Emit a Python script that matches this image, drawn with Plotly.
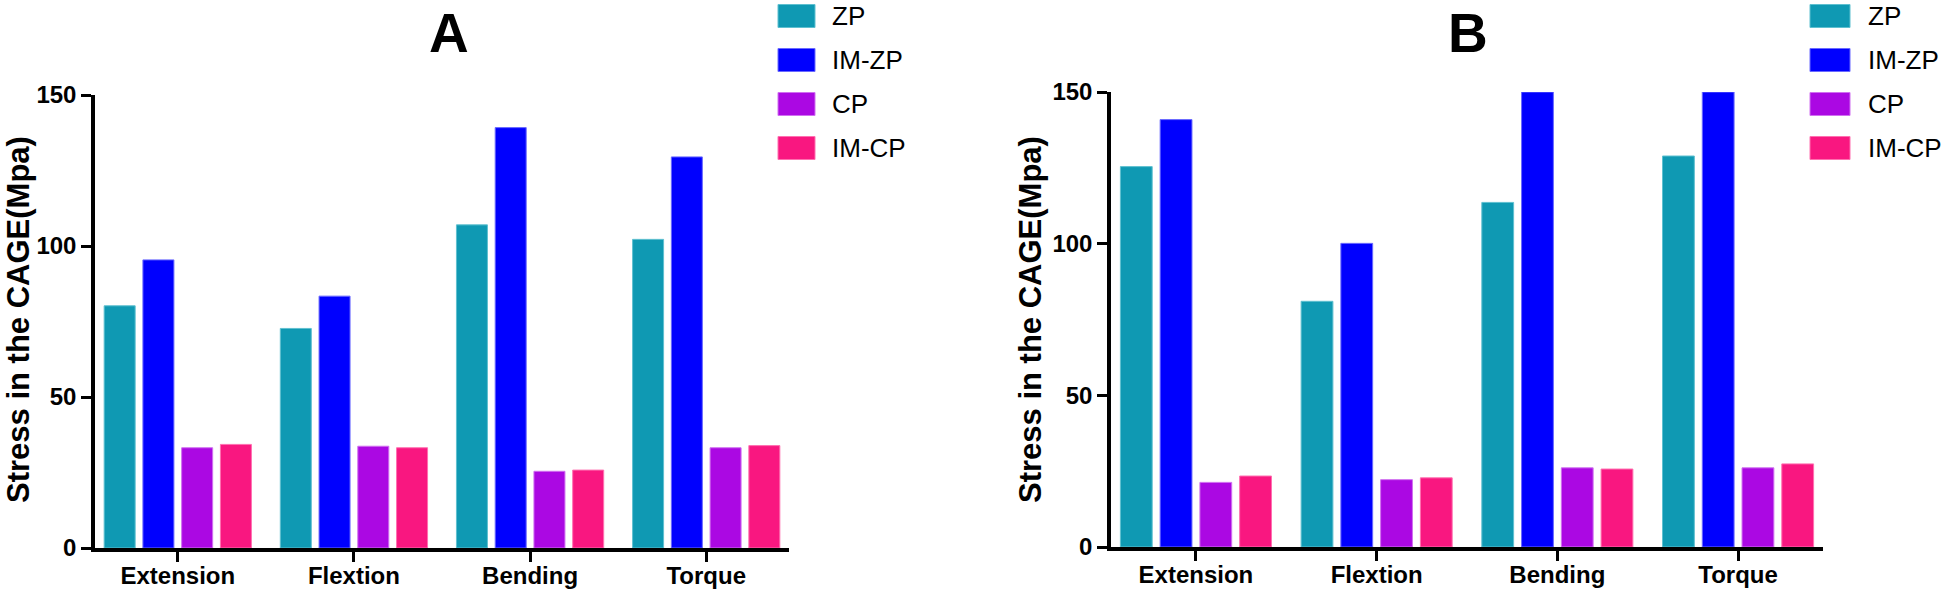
import plotly.graph_objects as go

categories = ["Extension", "Flextion", "Bending", "Torque"]
series_names = ["ZP", "IM-ZP", "CP", "IM-CP"]
colors = ["#0F99B3", "#0000FE", "#AB08E3", "#F91780"]
edge_colors = ["#5FC0D0", "#6A6AFF", "#D070F0", "#FF70B0"]

# Panel A values (MPa)
a_zp = [80.2, 72.7, 107.0, 102.2]
a_imzp = [95.4, 83.4, 139.2, 129.5]
a_cp = [33.2, 33.7, 25.4, 33.2]
a_imcp = [34.3, 33.2, 25.8, 33.9]

# Panel B values (MPa)
b_zp = [125.4, 81.0, 113.6, 128.9]
b_imzp = [140.9, 100.1, 150.0, 150.0]
b_cp = [21.3, 22.2, 26.1, 26.1]
b_imcp = [23.4, 22.8, 25.7, 27.4]

y_ticks = [0, 50, 100, 150]
y_title = "Stress in the CAGE(Mpa)"
panel_titles = ["A", "B"]

W, H = 1944, 591
FONT = "Liberation Sans, Arial, sans-serif"

fig = go.Figure()

panels = [
    ("x", "y", [a_zp, a_imzp, a_cp, a_imcp]),
    ("x2", "y2", [b_zp, b_imzp, b_cp, b_imcp]),
]
for xa, ya, data in panels:
    for name, vals, col, ec in zip(series_names, data, colors, edge_colors):
        fig.add_trace(go.Bar(
            x=categories, y=vals, name=name, xaxis=xa, yaxis=ya,
            marker=dict(color=col, line=dict(color=ec, width=1)),
            showlegend=False,
        ))

# plot areas in pixels
areas = [
    dict(x0=95, x1=789, ytop=95, ybot=548),
    dict(x0=1111, x1=1823, ytop=92, ybot=547),
]

def px(x):
    return x / W

def py(y):
    return 1 - y / H

axis_common = dict(
    showline=True, linecolor="black", linewidth=3.5, ticks="outside",
    tickcolor="black", tickwidth=3, ticklen=10, showgrid=False, zeroline=False,
    automargin=False,
    tickfont=dict(family=FONT, size=24, color="black", weight="bold"),
)

for i, ar in enumerate(areas):
    sx = "" if i == 0 else "2"
    fig.update_layout(**{
        f"xaxis{sx}": dict(domain=[px(ar["x0"]), px(ar["x1"])], anchor=f"y{sx}",
                           range=[-0.47, 3.47], type="category",
                           ticklabelstandoff=-7, **axis_common),
        f"yaxis{sx}": dict(domain=[py(ar["ybot"]), py(ar["ytop"])], anchor=f"x{sx}",
                           range=[0, 150], tickvals=y_ticks, **axis_common),
    })

annotations = []
shapes = []
# panel titles
for cx, t in zip([449, 1468], panel_titles):
    annotations.append(dict(x=px(cx), y=py(33), xref="paper", yref="paper",
                            text=t, showarrow=False, xanchor="center", yanchor="middle",
                            font=dict(family=FONT, size=55, color="black", weight="bold")))
# y titles
for cx in [18, 1030]:
    annotations.append(dict(x=px(cx), y=py(320), xref="paper", yref="paper",
                            text=y_title, textangle=-90, showarrow=False,
                            xanchor="center", yanchor="middle",
                            font=dict(family=FONT, size=31, color="black", weight="bold")))
# legends
legend_x = [(778, 815, 830), (1810, 1850, 1866)]
centers = [16, 60, 104, 148]
for sx0, sx1, tx in legend_x:
    for name, col, ec, cy in zip(series_names, colors, edge_colors, centers):
        shapes.append(dict(type="rect", xref="paper", yref="paper",
                           x0=px(sx0), x1=px(sx1), y0=py(cy + 11.5), y1=py(cy - 11.5),
                           fillcolor=col, line=dict(color=ec, width=1)))
        annotations.append(dict(x=px(tx), y=py(cy), xref="paper", yref="paper",
                                text=name, showarrow=False, xanchor="left", yanchor="middle",
                                font=dict(family=FONT, size=26, color="black")))

fig.update_layout(
    template="none",
    width=W, height=H, margin=dict(l=0, r=0, t=0, b=0, pad=0, autoexpand=False),
    paper_bgcolor="white", plot_bgcolor="white",
    barmode="group", bargap=0.12, bargroupgap=0.2,
    annotations=annotations, shapes=shapes, showlegend=False,
    font=dict(family=FONT, color="black"),
)

fig.write_html("out.html", config={"displayModeBar": False},
               post_script="document.body.style.margin='0';document.body.style.overflow='hidden';")
